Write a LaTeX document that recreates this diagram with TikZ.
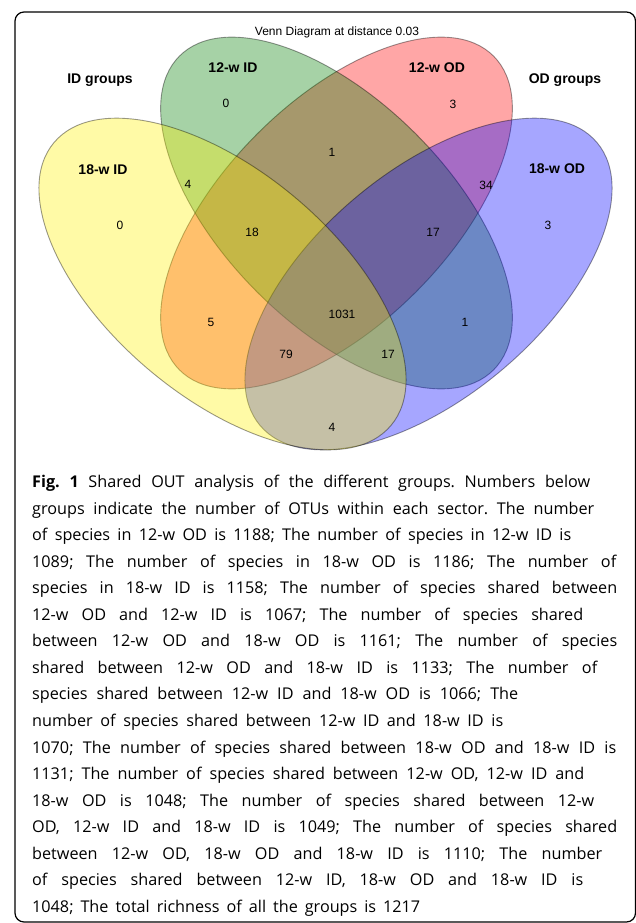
\documentclass[tikz,border=0pt]{standalone}
\usepackage{fontspec}
\setmainfont{Liberation Sans}
\newfontfamily\capfont{Open Sans}
\definecolor{svggreen}{RGB}{0,128,0}
\frenchspacing
\begin{document}
\begin{tikzpicture}[x=1pt,y=-1pt,
  venn/.style={draw=black, draw opacity=0.4, line width=0.9pt, fill opacity=0.35},
  grp/.style={font=\fontsize{14}{16}\selectfont\bfseries, inner sep=0},
  cnt/.style={font=\fontsize{12}{14}\selectfont, inner sep=0},
  capline/.style={anchor=base west, inner sep=0, font=\capfont\fontsize{16.2}{20}\selectfont}]
\useasboundingbox (0,0) rectangle (635,923);
\fill[white] (0,0) rectangle (635,923);
% frame
\draw[line width=1.2pt, rounded corners=9pt] (15,12) rectangle (635.5,922);

% the four ellipses, drawn in stacking order
\draw[venn, fill=red, rotate around={45:(336.5,213)}] (336.5,213) ellipse [x radius=222pt, y radius=112pt];
\draw[venn, fill=svggreen, rotate around={-45:(336.5,213)}] (336.5,213) ellipse [x radius=222pt, y radius=112pt];
\draw[venn, fill=blue, rotate around={40:(428.5,284)}] (428.5,284) ellipse [x radius=220pt, y radius=113pt];
\draw[venn, fill=yellow, rotate around={-40:(222.5,284)}] (222.5,284) ellipse [x radius=220pt, y radius=113pt];

% title and group names
\node[cnt] (title) at (337,32) {Venn Diagram at distance 0.03};
\node[grp] (idg) at (100,80) {ID groups};
\node[grp] (odg) at (565,80) {OD groups};
\node[grp] (g12id) at (233,68) {12-w ID};
\node[grp] (g12od) at (437,68) {12-w OD};
\node[grp] (g18id) at (103,170) {18-w ID};
\node[grp] (g18od) at (557,169) {18-w OD};

% sector counts
\node[cnt] (n1) at (226,103) {0};
\node[cnt] (n2) at (453,104) {3};
\node[cnt] (n3) at (332,152) {1};
\node[cnt] (n4) at (188,184) {4};
\node[cnt] (n5) at (486,185) {34};
\node[cnt] (n6) at (120,225) {0};
\node[cnt] (n7) at (252,232) {18};
\node[cnt] (n8) at (433,232) {17};
\node[cnt] (n9) at (548,225) {3};
\node[cnt] (n10) at (211,322) {5};
\node[cnt] (n11) at (342,314) {1031};
\node[cnt] (n12) at (465,322) {1};
\node[cnt] (n13) at (286,354) {79};
\node[cnt] (n14) at (388,354) {17};
\node[cnt] (n15) at (332,427) {4};

% caption
\node[capline] (c1) at (32,487.5) {\makebox[558pt][s]{\textbf{Fig. 1} Shared OUT analysis of the different groups. Numbers below}};
\node[capline] (c2) at (32,514.05) {\makebox[562pt][s]{groups indicate the number of OTUs within each sector. The number}};
\node[capline] (c3) at (32,540.6) {\makebox[539pt][s]{of species in 12-w OD is 1188; The number of species in 12-w ID is}};
\node[capline] (c4) at (32,567.15) {\makebox[584pt][s]{1089; The number of species in 18-w OD is 1186; The number of}};
\node[capline] (c5) at (32,593.7) {\makebox[585pt][s]{species in 18-w ID is 1158; The number of species shared between}};
\node[capline] (c6) at (32,620.25) {\makebox[551pt][s]{12-w OD and 12-w ID is 1067; The number of species shared}};
\node[capline] (c7) at (32,646.8) {\makebox[585pt][s]{between 12-w OD and 18-w OD is 1161; The number of species}};
\node[capline] (c8) at (32,673.35) {\makebox[565pt][s]{shared between 12-w OD and 18-w ID is 1133; The number of}};
\node[capline] (c9) at (32,699.9) {\makebox[486pt][s]{species shared between 12-w ID and 18-w OD is 1066; The}};
\node[capline] (c10) at (32,726.45) {\makebox[471pt][s]{number of species shared between 12-w ID and 18-w ID is}};
\node[capline] (c11) at (32,753) {\makebox[584pt][s]{1070; The number of species shared between 18-w OD and 18-w ID is}};
\node[capline] (c12) at (32,779.55) {\makebox[552pt][s]{1131; The number of species shared between 12-w OD, 12-w ID and}};
\node[capline] (c13) at (32,806.1) {\makebox[562pt][s]{18-w OD is 1048; The number of species shared between 12-w}};
\node[capline] (c14) at (32,832.65) {\makebox[585pt][s]{OD, 12-w ID and 18-w ID is 1049; The number of species shared}};
\node[capline] (c15) at (32,859.2) {\makebox[570pt][s]{between 12-w OD, 18-w OD and 18-w ID is 1110; The number}};
\node[capline] (c16) at (32,885.75) {\makebox[551pt][s]{of species shared between 12-w ID, 18-w OD and 18-w ID is}};
\node[capline] (c17) at (32,912.3) {\makebox[388pt][s]{1048; The total richness of all the groups is 1217}};
\end{tikzpicture}
\end{document}
